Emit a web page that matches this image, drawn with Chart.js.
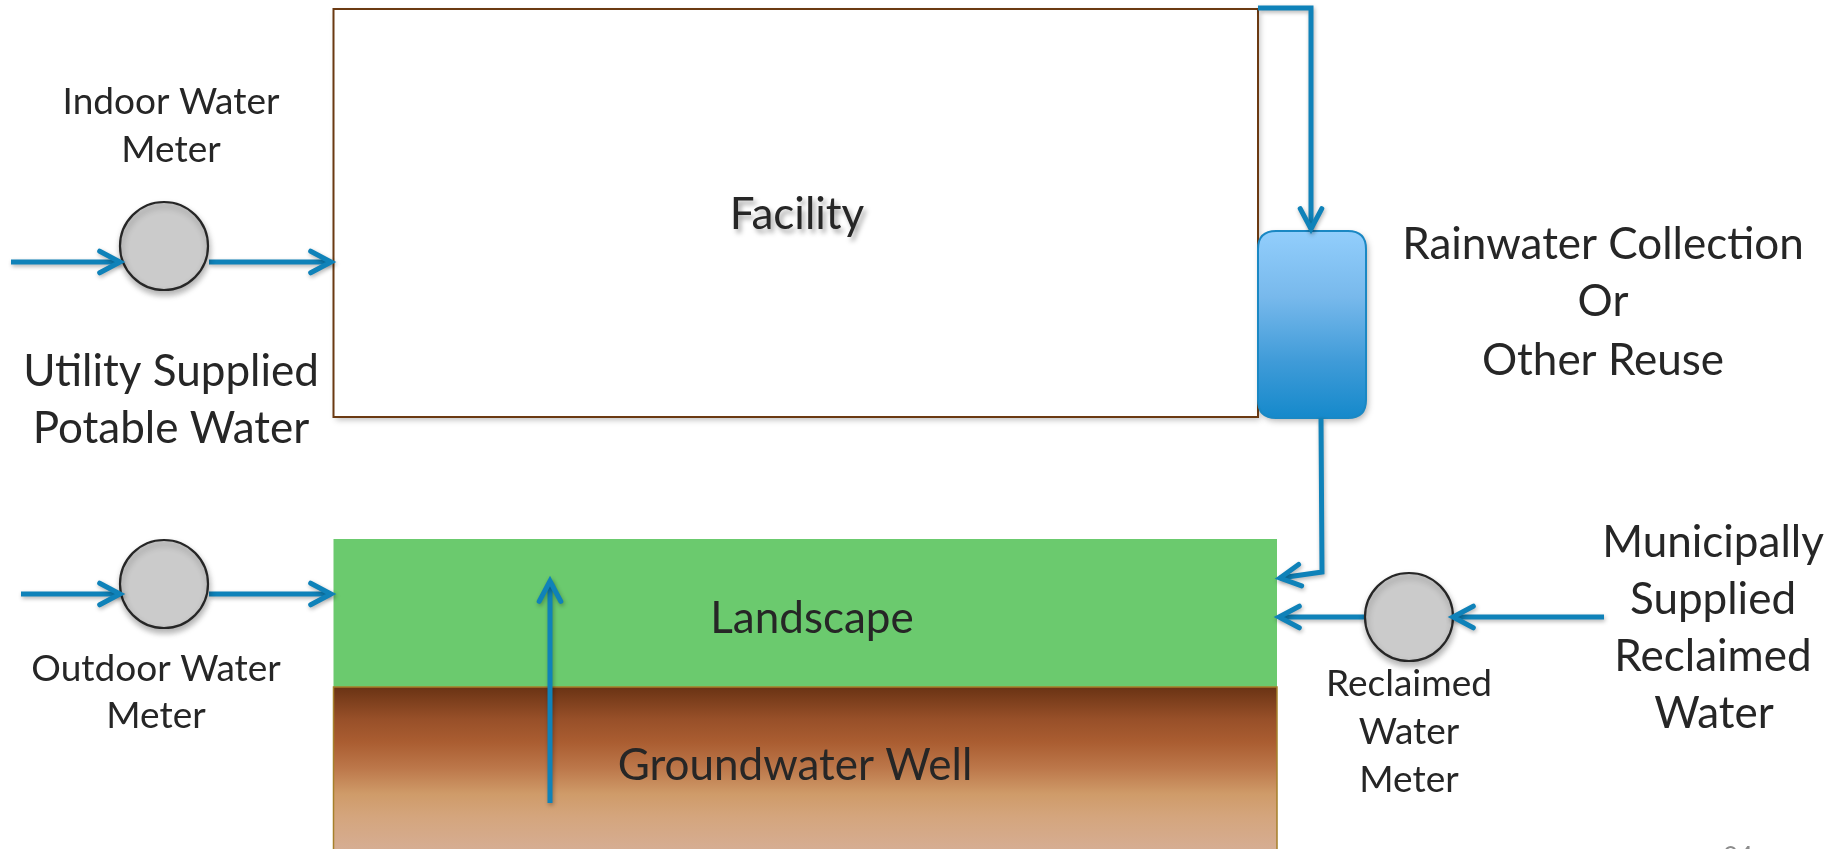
<!DOCTYPE html>
<html><head><meta charset="utf-8">
<script src="https://cdn.jsdelivr.net/npm/chart.js@4.4.1/dist/chart.umd.min.js"></script>
<style>html,body{margin:0;padding:0;background:#fff;overflow:hidden}#wrap{width:1840px;height:849px}</style>
</head><body><div id="wrap"><canvas id="c" width="1840" height="849"></canvas></div>
<script>
// Diagram space: x 0..1840, y 0..849 (top-down)
const meterNames = ['Indoor Water Meter', 'Outdoor Water Meter', 'Reclaimed Water Meter'];
const meterX = [164, 164, 1409];
const meterY = [246, 584, 617];

const areaNames = ['Facility', 'Landscape', 'Groundwater Well', 'Rainwater Tank'];
const areaX0 = [333.5, 333.5, 333.5, 1258];
const areaX1 = [1258, 1277, 1277, 1366];
const areaY0 = [9, 539, 687, 231];
const areaY1 = [417, 687, 880, 418];

const flowNames = ['Utility to indoor meter', 'Indoor meter to facility', 'Utility to outdoor meter',
  'Outdoor meter to landscape', 'Roof to rain tank', 'Rain tank to landscape',
  'Municipal to reclaimed meter', 'Reclaimed meter to landscape', 'Well to landscape'];
const flowX = [[11, 120], [209, 331], [21, 120], [209, 331], [1258, 1311, 1311], [1321, 1322, 1280], [1604, 1453], [1366, 1279], [550, 550]];
const flowY = [[262, 262], [262, 262], [594, 594], [594, 594], [8, 8, 229], [418, 572, 578], [617, 617], [617, 617], [803, 581]];

const labelText = ['Indoor Water', 'Meter', 'Utility Supplied', 'Potable Water', 'Facility',
  'Rainwater Collection', 'Or', 'Other Reuse', 'Outdoor Water', 'Meter', 'Landscape', 'Groundwater Well',
  'Reclaimed', 'Water', 'Meter', 'Municipally', 'Supplied', 'Reclaimed', 'Water', '24'];
const labelX = [171, 171, 171, 171, 797, 1603, 1603, 1603, 156, 156, 812, 795, 1409, 1409, 1409, 1713, 1713, 1713, 1714, 1738];
const labelY = [114, 162, 386, 443, 229, 259, 316, 375, 681, 728, 633, 780, 696, 744, 792, 557, 614, 671, 728, 866];
const labelKind = ['s', 's', 'b', 'b', 'f', 'b', 'b', 'b', 's', 's', 'b', 'b', 's', 's', 's', 'b', 'b', 'b', 'b', 'p'];

const BLUE = '#0f82b9';
const TEXT = '#262626';
const FONT = 'Lato, "Open Sans", sans-serif';
const SIZES = { s: 37, b: 44, f: 44, p: 26 };

function px(chart, x, y) {
  return [chart.scales.x.getPixelForValue(x), chart.scales.y.getPixelForValue(y)];
}
function rrect(ctx, x0, y0, x1, y1, r) {
  ctx.beginPath();
  ctx.moveTo(x0 + r, y0);
  ctx.lineTo(x1 - r, y0); ctx.quadraticCurveTo(x1, y0, x1, y0 + r);
  ctx.lineTo(x1, y1 - r); ctx.quadraticCurveTo(x1, y1, x1 - r, y1);
  ctx.lineTo(x0 + r, y1); ctx.quadraticCurveTo(x0, y1, x0, y1 - r);
  ctx.lineTo(x0, y0 + r); ctx.quadraticCurveTo(x0, y0, x0 + r, y0);
  ctx.closePath();
}
function shadow(ctx, a, blur, ox, oy) {
  ctx.shadowColor = 'rgba(0,0,0,' + a + ')';
  ctx.shadowBlur = blur; ctx.shadowOffsetX = ox; ctx.shadowOffsetY = oy;
}

const diagramPlugin = {
  id: 'diagram',
  beforeDatasetsDraw(chart) {
    const ctx = chart.ctx;
    const box = i => {
      const [a, b] = px(chart, areaX0[i], areaY0[i]);
      const [c, d] = px(chart, areaX1[i], areaY1[i]);
      return [a, b, c, d];
    };
    // Facility
    let [x0, y0, x1, y1] = box(0);
    ctx.save();
    shadow(ctx, 0.25, 6, 2, 3);
    ctx.fillStyle = '#ffffff';
    ctx.fillRect(x0, y0, x1 - x0, y1 - y0);
    ctx.restore();
    ctx.save();
    ctx.strokeStyle = '#6b3a12'; ctx.lineWidth = 2;
    ctx.strokeRect(x0, y0, x1 - x0, y1 - y0);
    ctx.restore();
    // Landscape
    [x0, y0, x1, y1] = box(1);
    ctx.save();
    ctx.fillStyle = '#6bca6e';
    ctx.fillRect(x0, y0, x1 - x0, y1 - y0);
    ctx.restore();
    // Groundwater
    [x0, y0, x1, y1] = box(2);
    ctx.save();
    const [, gEnd] = px(chart, 0, 849);
    const g = ctx.createLinearGradient(0, y0, 0, gEnd);
    g.addColorStop(0, '#6a3314');
    g.addColorStop(0.2, '#985029');
    g.addColorStop(0.34, '#aa5d31');
    g.addColorStop(0.5, '#bc774a');
    g.addColorStop(0.66, '#cf9b69');
    g.addColorStop(0.8, '#d4a57d');
    g.addColorStop(1, '#d6ad92');
    ctx.fillStyle = g;
    ctx.fillRect(x0, y0, x1 - x0, y1 - y0);
    ctx.strokeStyle = '#a6802a'; ctx.lineWidth = 1.5;
    ctx.strokeRect(x0, y0, x1 - x0, y1 - y0);
    ctx.restore();
    // Rain tank
    [x0, y0, x1, y1] = box(3);
    ctx.save();
    shadow(ctx, 0.3, 6, 2, 3);
    const t = ctx.createLinearGradient(0, y0, 0, y1);
    t.addColorStop(0, '#92cefc');
    t.addColorStop(0.35, '#78b9ec');
    t.addColorStop(0.7, '#3f9bd8');
    t.addColorStop(1, '#1589cb');
    ctx.fillStyle = t;
    rrect(ctx, x0, y0, x1, y1, 18);
    ctx.fill();
    ctx.restore();
    ctx.save();
    ctx.strokeStyle = '#1a88c4'; ctx.lineWidth = 2;
    rrect(ctx, x0, y0, x1, y1, 18);
    ctx.stroke();
    ctx.restore();
  },
  beforeDatasetDraw(chart, args) {
    const ctx = chart.ctx;
    ctx.save();
    if (args.meta.type === 'line') shadow(ctx, 0.3, 4, 1, 2);
    else shadow(ctx, 0.3, 6, 1, 4);
  },
  afterDatasetDraw(chart) {
    chart.ctx.restore();
  },
  afterDatasetsDraw(chart) {
    const ctx = chart.ctx;
    // arrowheads
    ctx.save();
    shadow(ctx, 0.3, 4, 1, 2);
    ctx.strokeStyle = BLUE; ctx.lineWidth = 5;
    ctx.lineCap = 'round'; ctx.lineJoin = 'miter';
    const L = 23, h = 28 * Math.PI / 180;
    for (let i = 0; i < flowX.length; i++) {
      const n = flowX[i].length;
      const [tx, ty] = px(chart, flowX[i][n - 1], flowY[i][n - 1]);
      const [fx, fy] = px(chart, flowX[i][n - 2], flowY[i][n - 2]);
      const a = Math.atan2(ty - fy, tx - fx);
      ctx.beginPath();
      ctx.moveTo(tx - L * Math.cos(a - h), ty - L * Math.sin(a - h));
      ctx.lineTo(tx, ty);
      ctx.lineTo(tx - L * Math.cos(a + h), ty - L * Math.sin(a + h));
      ctx.stroke();
    }
    ctx.restore();
    // labels
    for (let i = 0; i < labelText.length; i++) {
      const k = labelKind[i];
      const [x, y] = px(chart, labelX[i], labelY[i]);
      ctx.save();
      ctx.font = SIZES[k] + 'px ' + FONT;
      ctx.textAlign = 'center';
      ctx.textBaseline = 'alphabetic';
      ctx.fillStyle = k === 'p' ? '#8c8c8c' : TEXT;
      if (k === 'f') shadow(ctx, 0.35, 5, 3, 4);
      ctx.fillText(labelText[i], x, y);
      ctx.restore();
    }
  }
};

const datasets = [{
  type: 'scatter',
  label: 'Meters',
  data: meterX.map((x, i) => ({ x, y: meterY[i] })),
  pointRadius: 44,
  pointHoverRadius: 44,
  backgroundColor: '#cbcbcb',
  borderColor: '#262626',
  borderWidth: 2.2,
  clip: false,
  order: 0
}];
flowNames.forEach((name, i) => {
  datasets.push({
    type: 'line',
    label: name,
    data: flowX[i].map((x, j) => ({ x, y: flowY[i][j] })),
    borderColor: BLUE,
    borderWidth: 5,
    pointRadius: 0,
    tension: 0,
    fill: false,
    borderJoinStyle: 'miter',
    borderCapStyle: 'butt',
    clip: false,
    order: 1
  });
});

new Chart(document.getElementById('c'), {
  type: 'scatter',
  data: { datasets },
  options: {
    responsive: false,
    devicePixelRatio: 1,
    animation: false,
    events: [],
    layout: { padding: 0, autoPadding: false },
    plugins: { legend: { display: false }, tooltip: { enabled: false } },
    scales: {
      x: { type: 'linear', display: false, min: 0, max: 1840, grace: 0 },
      y: { type: 'linear', display: false, min: 0, max: 849, reverse: true, grace: 0 }
    }
  },
  plugins: [diagramPlugin]
});
</script>
</body></html>
